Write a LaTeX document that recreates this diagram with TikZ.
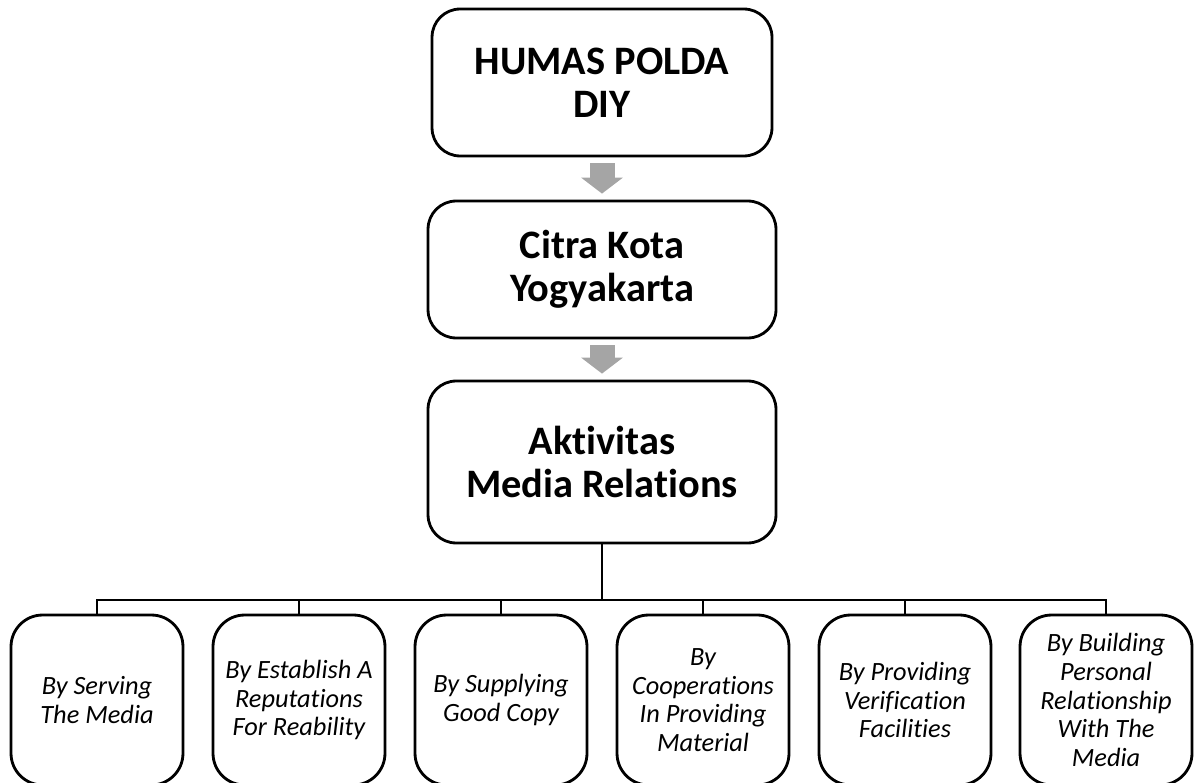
\documentclass[tikz,border=0pt]{standalone}
\usepackage{fontspec}
\setmainfont{Carlito}[RawFeature=-liga]
\usepackage{tikz}
\usetikzlibrary{calc}
\usetikzlibrary{arrows.meta}

\definecolor{arrowgray}{RGB}{165,165,165}

\begin{document}
\begin{tikzpicture}[x=0.02cm, y=0.02cm,
        topbox/.style = {draw, line width=1.6pt, rounded corners=16pt, align=center,
                         font=\fontsize{23}{24.5}\selectfont\bfseries, inner sep=0pt},
        subbox/.style = {draw, line width=1.6pt, rounded corners=18pt, align=center,
                         minimum width=3.44cm, minimum height=3.4cm, inner sep=0pt,
                         font=\fontsize{15}{16.3}\selectfont\itshape},
        fatarrow/.style = {draw=arrowgray, line width=0.5cm, line cap=butt,
                           -{Triangle[length=0.32cm, width=0.82cm]}}]
        \useasboundingbox (0,0) rectangle (1196,782);
        \node[topbox, minimum width=6.8cm, minimum height=2.94cm] (humas) at (602, 699.5) {HUMAS POLDA\\DIY};
        \node[topbox, minimum width=6.96cm, minimum height=2.74cm] (citra) at (602, 512.5) {Citra Kota\\Yogyakarta};
        \node[topbox, minimum width=6.96cm, minimum height=3.24cm] (aktivitas) at (602, 320) {Aktivitas\\Media Relations};
        \draw[fatarrow] ($(humas.south)+(0,-6)$) -- ($(citra.north)+(0,6)$);
        \draw[fatarrow] ($(citra.south)+(0,-6)$) -- ($(aktivitas.north)+(0,6)$);
        \node[subbox] (serving) at (97, 82) {By Serving\\The Media};
        \node[subbox] (reputation) at (299, 82) {By Establish A\\Reputations\\For Reability};
        \node[subbox] (copy) at (501, 82) {By Supplying\\Good Copy};
        \node[subbox] (material) at (703, 82) {By\\Cooperations\\In Providing\\Material};
        \node[subbox] (facility) at (905, 82) {By Providing\\Verification\\Facilities};
        \node[subbox] (relation) at (1106, 82) {By Building\\Personal\\Relationship\\With The\\Media};
        \coordinate (bus) at (602, 182);
        \draw[line width=1.2pt] (aktivitas.south) -- (bus);
        \foreach \b in {serving, reputation, copy, material, facility, relation}
            \draw[line width=1.2pt] (bus) -| (\b.north);
\end{tikzpicture}
\end{document}
